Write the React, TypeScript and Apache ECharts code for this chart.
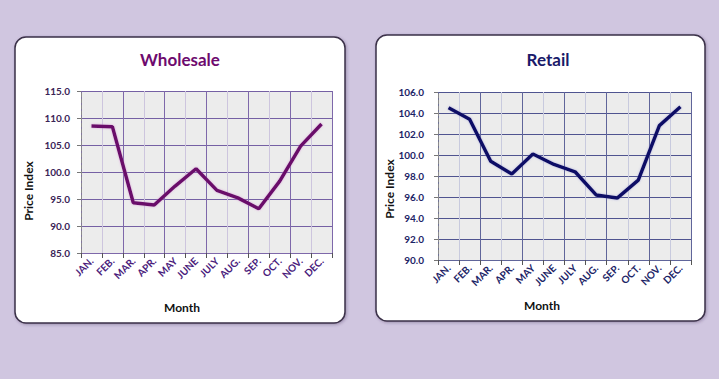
import React, { useEffect, useRef } from "react";
import * as echarts from "echarts";

const months = ["JAN.", "FEB.", "MAR.", "APR.", "MAY", "JUNE", "JULY", "AUG.", "SEP.", "OCT.", "NOV.", "DEC."];
const wholesale = [108.5, 108.4, 94.3, 93.9, 97.4, 100.6, 96.6, 95.2, 93.2, 98.3, 104.8, 108.9];
const retail = [104.5, 103.4, 99.4, 98.2, 100.1, 99.1, 98.4, 96.2, 95.9, 97.6, 102.8, 104.6];
const wholesaleTitle = "Wholesale";
const retailTitle = "Retail";
const yName = "Price Index";
const xName = "Month";

const FONT = "Lato, 'Open Sans', sans-serif";

export default function App() {
  const ref = useRef<HTMLDivElement>(null);
  useEffect(() => {
    document.body.style.margin = "0";
    const chart = echarts.init(ref.current!, undefined, { renderer: "svg" });
    const panel = (x: number, y: number, w: number, h: number) => ({
      type: "rect",
      shape: { x, y, width: w, height: h, r: 11 },
      style: { fill: "#ffffff", stroke: "#3b3048", lineWidth: 1.5, shadowBlur: 3, shadowColor: "rgba(60,40,80,0.35)", shadowOffsetX: 1, shadowOffsetY: 1 },
      z: -10,
    });
    const txt = (x: number, y: number, text: string, size: number, color: string, rot = 0) => ({
      type: "text",
      x,
      y,
      rotation: rot,
      style: { text, fontSize: size, fontWeight: "bold", fill: color, fontFamily: FONT, align: "center", verticalAlign: "middle" },
      z: 10,
    });
    const mkX = (gi: number, color: string, dark: string, light: string) => ({
      type: "category",
      gridIndex: gi,
      data: months,
      boundaryGap: true,
      axisLine: { show: true, lineStyle: { color: dark, width: 1 } },
      axisTick: { show: true, length: 5, lineStyle: { color: "#555" } },
      axisLabel: { rotate: 45, fontSize: 10, fontWeight: "bold", color, fontFamily: FONT, margin: 6, interval: 0 },
      splitLine: { show: true, lineStyle: { color: [dark, light], width: 1 } },
    });
    const mkY = (gi: number, min: number, max: number, interval: number, color: string, gridColor: string, margin: number) => ({
      type: "value",
      gridIndex: gi,
      min,
      max,
      interval,
      axisLine: { show: true, lineStyle: { color: "#8a8a8a", type: "dashed", width: 1 } },
      axisTick: { show: true, length: 4, lineStyle: { color: "#777" } },
      axisLabel: { fontSize: 10, fontWeight: "bold", color, fontFamily: FONT, margin, formatter: (v: number) => v.toFixed(1) },
      splitLine: { show: true, lineStyle: { color: gridColor, width: 1 } },
    });
    chart.setOption({
      animation: false,
      backgroundColor: "#d0c6e0",
      grid: [
        { left: 81, top: 91, width: 251, height: 162, show: true, backgroundColor: "#ececec", borderWidth: 0 },
        { left: 438, top: 92, width: 253, height: 168, show: true, backgroundColor: "#ececec", borderWidth: 0 },
      ],
      xAxis: [mkX(0, "#4a1c7c", "#7e68aa", "#cdc5de"), mkX(1, "#1c2466", "#60659a", "#c8cade")],
      yAxis: [
        mkY(0, 85, 115, 5, "#3a2456", "#7560a4", 11),
        mkY(1, 90, 106, 2, "#1c2466", "#4f5490", 14),
      ],
      series: [
        {
          type: "line",
          xAxisIndex: 0,
          yAxisIndex: 0,
          data: wholesale,
          symbol: "none",
          lineStyle: { color: "#6a0a6a", width: 3.5, shadowColor: "rgba(210,120,210,0.6)", shadowBlur: 2 },
          z: 5,
        },
        {
          type: "line",
          xAxisIndex: 1,
          yAxisIndex: 1,
          data: retail,
          symbol: "none",
          lineStyle: { color: "#0c0c66", width: 3.5, shadowColor: "rgba(120,120,210,0.5)", shadowBlur: 2 },
          z: 5,
        },
      ],
      graphic: [
        panel(15, 37, 330, 286),
        panel(376, 35, 329, 286),
        txt(180, 59, wholesaleTitle, 17, "#6e0a6e"),
        txt(548, 59, retailTitle, 17, "#1a1a6a"),
        txt(28, 191, yName, 12, "#111111", Math.PI / 2),
        txt(389, 189, yName, 12, "#111111", Math.PI / 2),
        txt(182, 307, xName, 12, "#111111"),
        txt(542, 305, xName, 12, "#111111"),
      ],
    });
    return () => chart.dispose();
  }, []);
  return <div ref={ref} style={{ position: "fixed", left: 0, top: 0, width: 719, height: 379 }} />;
}
